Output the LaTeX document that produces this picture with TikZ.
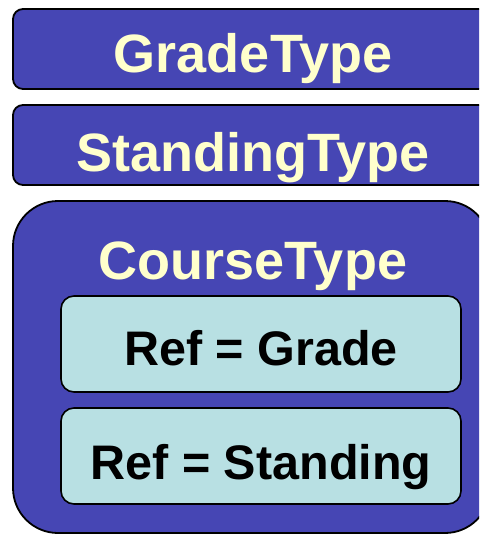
\documentclass[tikz,border=0pt]{standalone}
\usepackage{fontspec}
\setmainfont{Liberation Sans}
\usepackage{xcolor}
\usetikzlibrary{positioning}
\definecolor{typeblue}{RGB}{70,70,180}
\definecolor{titleyellow}{RGB}{255,255,204}
\definecolor{refcyan}{RGB}{184,224,227}

\begin{document}
\begin{tikzpicture}[x=1pt,y=-1pt,
    typebox/.style={draw=black,line width=1.8pt,fill=typeblue,rounded corners=10pt,anchor=north west,inner sep=0pt,outer sep=0pt},
    refbox/.style={draw=black,line width=1.6pt,fill=refcyan,rounded corners=13pt,anchor=north west,inner sep=0pt,outer sep=0pt,minimum width=400pt,minimum height=96pt},
    title/.style={anchor=base,text=titleyellow,font=\fontsize{54}{62}\selectfont\bfseries,inner sep=0pt},
    reftext/.style={anchor=base,text=black,font=\fontsize{48.5}{56}\selectfont\bfseries,inner sep=0pt}
  ]
    \useasboundingbox (0,0) rectangle (479,535);
    \clip (0,0) rectangle (479,535);
    % simple types
    \node[typebox,minimum width=520pt,minimum height=80pt] (grade) at (13,9) {};
    \node[typebox,minimum width=520pt,minimum height=80pt] (standing) at (13,105) {};
    \node[title] (gradename) at (253,73) {GradeType};
    \node[title] (standingname) at (253,171) {StandingType};
    % complex type with its two references
    \node[typebox,rounded corners=45pt,minimum width=477pt,minimum height=332pt] (course) at (13,201) {};
    \node[title] (coursename) at (253,279) {CourseType};
    \node[refbox] (refgrade) at (61,296) {};
    \node[refbox] (refstanding) at (61,408) {};
    \node[reftext] at (261,365) {Ref = Grade};
    \node[reftext] at (261,479) {Ref = Standing};
\end{tikzpicture}
\end{document}
